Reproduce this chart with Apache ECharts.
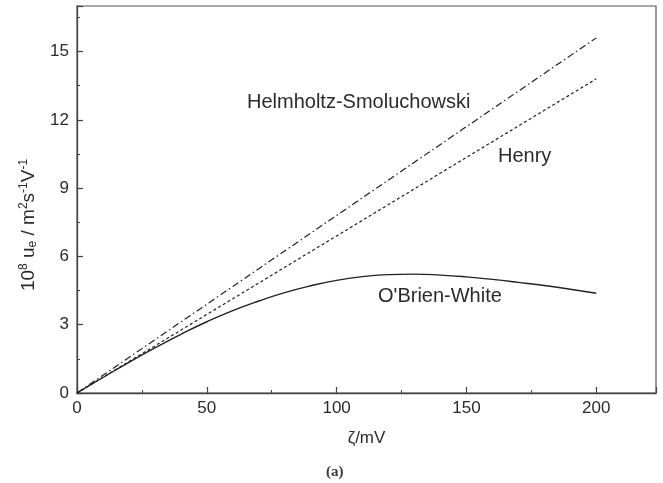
<!DOCTYPE html>
<html>
<head>
<meta charset="utf-8">
<script src="https://cdn.jsdelivr.net/npm/echarts@6/dist/echarts.min.js"></script>
<style>
  html, body { margin: 0; padding: 0; background: #fff; }
  #chart { width: 663px; height: 483px; }
</style>
</head>
<body>
<div id="chart"></div>
<script>
// Zeta potential (mV) sample points
const zeta = [0, 10, 20, 30, 40, 50, 60, 70, 80, 90, 100, 110, 120, 130, 140, 150, 160, 170, 180, 190, 200];

// Electrophoretic mobility, 10^8 u_e / m^2 s^-1 V^-1
const helmholtz = [0, 0.78, 1.56, 2.34, 3.12, 3.9, 4.68, 5.46, 6.24, 7.02, 7.8, 8.58, 9.36, 10.14, 10.92, 11.7, 12.48, 13.26, 14.04, 14.82, 15.6];
const henry = [0, 0.69, 1.38, 2.07, 2.76, 3.45, 4.14, 4.83, 5.52, 6.21, 6.9, 7.59, 8.28, 8.97, 9.66, 10.35, 11.04, 11.73, 12.42, 13.11, 13.8];
const obrienWhite = [0, 0.68, 1.35, 1.98, 2.58, 3.13, 3.62, 4.04, 4.41, 4.71, 4.95, 5.11, 5.2, 5.22, 5.18, 5.1, 4.99, 4.86, 4.72, 4.56, 4.38];

const xTicks = { min: 0, max: 223, interval: 50 };
const yTicks = { min: 0, max: 17, interval: 3 };

const curveLabels = [
  { text: 'Helmholtz-Smoluchowski', x: 247, y: 103 },
  { text: 'Henry', x: 498, y: 157 },
  { text: "O'Brien-White", x: 378, y: 297 }
];

const pairs = (ys) => zeta.map((z, i) => [z, ys[i]]);

const chart = echarts.init(document.getElementById('chart'));
const font = '"Liberation Sans", Arial, sans-serif';
const ink = '#2b2b2b';

chart.setOption({
  animation: false,
  backgroundColor: '#fff',
  grid: {
    left: 77, top: 6, right: 7, bottom: 90,
    show: true, borderColor: '#555', borderWidth: 1.2, backgroundColor: 'transparent'
  },
  xAxis: {
    type: 'value',
    min: xTicks.min, max: xTicks.max, interval: xTicks.interval,
    axisLine: { lineStyle: { color: '#444', width: 1.3 } },
    axisTick: { inside: true, length: 6, lineStyle: { color: '#444', width: 1.2 } },
    minorTick: { show: true, splitNumber: 2, length: 3, lineStyle: { color: '#444' } },
    splitLine: { show: false },
    axisLabel: { color: ink, fontSize: 17, fontFamily: font, margin: 7, showMaxLabel: false },
    name: 'ζ/mV',
    nameLocation: 'middle',
    nameGap: 37,
    nameTextStyle: { color: ink, fontSize: 17, fontFamily: font }
  },
  yAxis: {
    type: 'value',
    min: yTicks.min, max: yTicks.max, interval: yTicks.interval,
    axisLine: { lineStyle: { color: '#444', width: 1.3 } },
    axisTick: { inside: true, length: 6, lineStyle: { color: '#444', width: 1.2 } },
    minorTick: { show: true, splitNumber: 2, length: 3, lineStyle: { color: '#444' } },
    splitLine: { show: false },
    axisLabel: { color: ink, fontSize: 17, fontFamily: font, margin: 8, showMaxLabel: false }
  },
  series: [
    {
      name: 'Helmholtz-Smoluchowski', type: 'line', data: pairs(helmholtz),
      showSymbol: false, smooth: false,
      lineStyle: { color: '#222', width: 1.2, type: [7, 3, 1.5, 3] }
    },
    {
      name: 'Henry', type: 'line', data: pairs(henry),
      showSymbol: false, smooth: false,
      lineStyle: { color: '#222', width: 1.2, type: [3, 2.5] }
    },
    {
      name: "O'Brien-White", type: 'line', data: pairs(obrienWhite),
      showSymbol: false, smooth: true,
      lineStyle: { color: '#222', width: 1.4, type: 'solid' }
    }
  ],
  graphic: curveLabels.map(l => ({
    type: 'text', left: l.x, top: l.y - 11,
    style: { text: l.text, fill: ink, font: '20px ' + font }
  })).concat([
    {
      // rotated y-axis title with super/subscripts
      type: 'text', x: 29, y: 225, rotation: Math.PI / 2,
      style: {
        text: '{n|10}{sup|8}{n| u}{sub|e}{n| / m}{sup|2}{n|s}{sup|-1}{n|V}{sup|-1}',
        align: 'center', verticalAlign: 'middle',
        rich: {
          n: { fontSize: 19, fontFamily: font, fill: ink },
          sup: { fontSize: 12, fontFamily: font, fill: ink, padding: [0, 0, 11, 0] },
          sub: { fontSize: 12, fontFamily: font, fill: ink, padding: [8, 0, 0, 0] }
        }
      }
    },
    {
      type: 'text', left: 326, top: 465,
      style: { text: '(a)', fill: '#3a3a3a', font: 'bold 15px "Liberation Serif", "DejaVu Serif", serif' }
    }
  ])
});
</script>
</body>
</html>
